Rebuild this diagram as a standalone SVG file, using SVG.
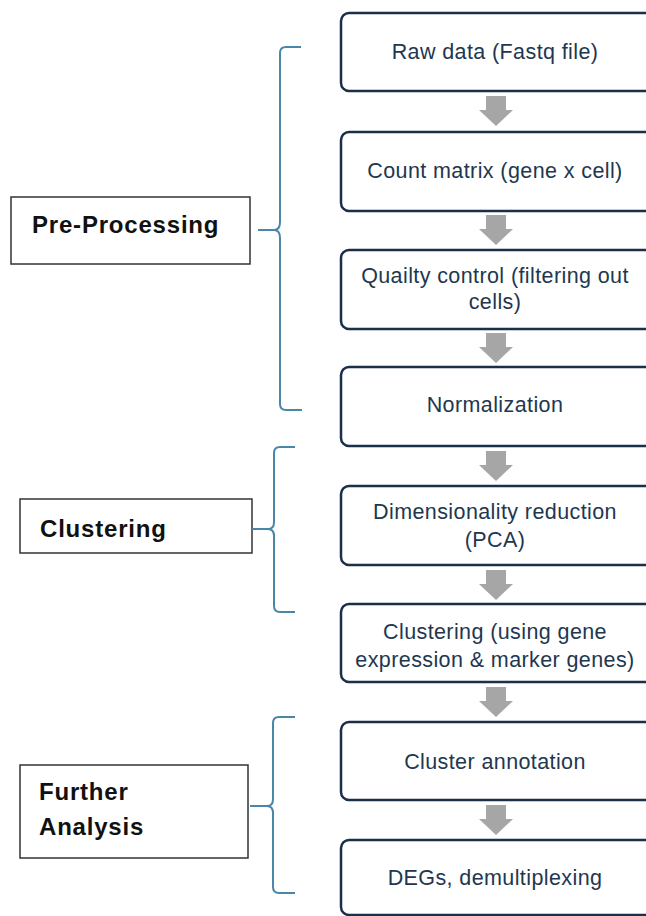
<svg xmlns="http://www.w3.org/2000/svg" width="646" height="916" viewBox="0 0 646 916">
<defs>
<style>
.step rect{fill:#fff;stroke:#1b2f4a;stroke-width:2.5}
.step text{font-family:"Liberation Sans",Arial,sans-serif;font-size:21.5px;letter-spacing:0.4px;fill:#22374f;text-anchor:middle}
.phase rect{fill:#fff;stroke:#333;stroke-width:1.5}
.phase text{font-family:"Liberation Sans",Arial,sans-serif;font-size:24px;font-weight:bold;fill:#111;letter-spacing:0.8px}
.arrow{fill:#a6a6a6}
.brace{fill:none;stroke:#4a86a8;stroke-width:2}
</style>
<path id="arr" class="arrow" d="M486,0 H506 V14 H513 L496,30 L479,14 H486 Z"/>
</defs>

<g id="n1" class="step"><rect x="341" y="13" width="312" height="78" rx="8"/><text x="495" y="59">Raw data (Fastq file)</text></g>
<g id="n2" class="step"><rect x="341" y="132" width="312" height="79" rx="8"/><text x="495" y="178">Count matrix (gene x cell)</text></g>
<g id="n3" class="step"><rect x="341" y="250" width="312" height="79" rx="8"/><text x="495" y="283">Quailty control (filtering out</text><text x="495" y="309">cells)</text></g>
<g id="n4" class="step"><rect x="341" y="367" width="312" height="79" rx="8"/><text x="495" y="412">Normalization</text></g>
<g id="n5" class="step"><rect x="341" y="486" width="312" height="79" rx="8"/><text x="495" y="519">Dimensionality reduction</text><text x="495" y="547">(PCA)</text></g>
<g id="n6" class="step"><rect x="341" y="604" width="312" height="78" rx="8"/><text x="495" y="639">Clustering (using gene</text><text x="495" y="667">expression &amp; marker genes)</text></g>
<g id="n7" class="step"><rect x="341" y="722" width="312" height="78" rx="8"/><text x="495" y="769">Cluster annotation</text></g>
<g id="n8" class="step"><rect x="341" y="840" width="312" height="75" rx="8"/><text x="495" y="885">DEGs, demultiplexing</text></g>

<g id="p1" class="phase"><rect x="11" y="197" width="239" height="67"/><text x="32" y="233">Pre-Processing</text></g>
<g id="p2" class="phase"><rect x="20" y="499" width="232" height="54"/><text x="40" y="537">Clustering</text></g>
<g id="p3" class="phase"><rect x="20" y="765" width="228" height="93"/><text x="39" y="800">Further</text><text x="39" y="835">Analysis</text></g>

<g id="connectors">
<use href="#arr" y="96"/>
<use href="#arr" y="215"/>
<use href="#arr" y="333"/>
<use href="#arr" y="451"/>
<use href="#arr" y="570"/>
<use href="#arr" y="687"/>
<use href="#arr" y="805"/>
<path class="brace" d="M301,47 H286 Q280,47 280,53 V222 Q280,230 274,230 H258 H274 Q280,230 280,238 V404 Q280,410 286,410 H302"/>
<path class="brace" d="M295,447 H280 Q274,447 274,453 V522 Q274,529 268,529 H252 H268 Q274,529 274,536 V606 Q274,612 280,612 H295"/>
<path class="brace" d="M295,717 H279 Q273,717 273,723 V799 Q273,806 267,806 H250 H267 Q273,806 273,813 V887 Q273,893 279,893 H295"/>
</g>
</svg>
